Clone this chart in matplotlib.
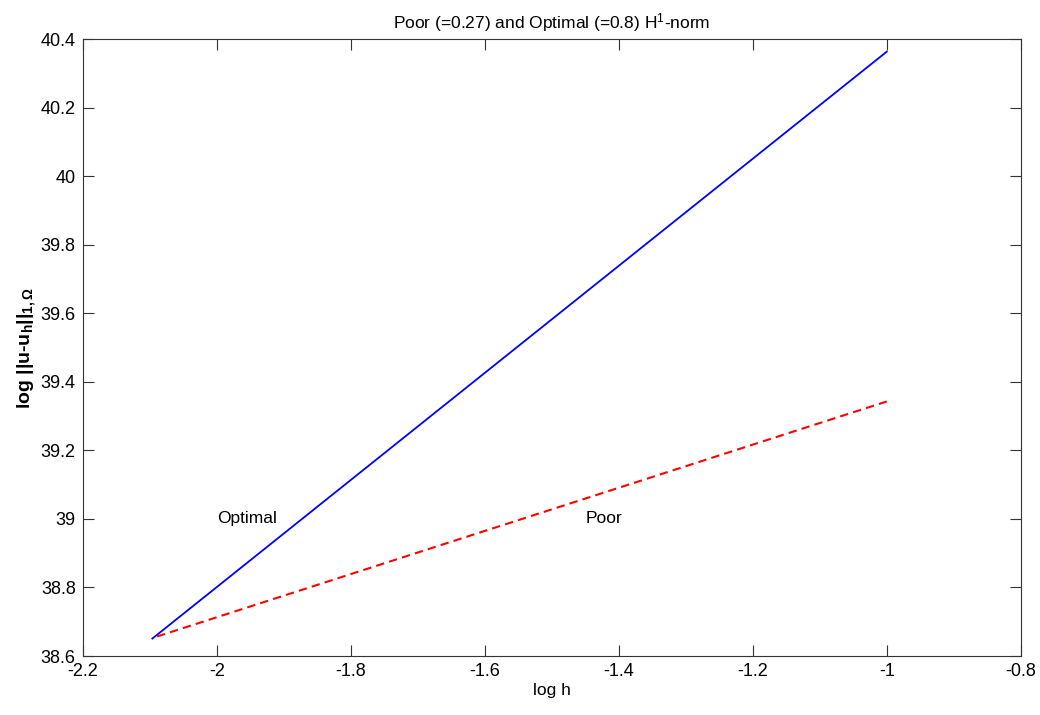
import matplotlib
matplotlib.use('Agg')
import matplotlib.pyplot as plt

plt.rcParams['font.family'] = ['Liberation Sans', 'DejaVu Sans']
plt.rcParams['mathtext.fontset'] = 'custom'
plt.rcParams['mathtext.rm'] = 'Liberation Sans'
plt.rcParams['mathtext.it'] = 'Liberation Sans'
plt.rcParams['mathtext.bf'] = 'Liberation Sans:bold'

# log h and log error for the two estimates
logh_opt = [-2.096, -1.0]
err_opt = [38.651, 40.364]
logh_poor = [-2.089, -1.0]
err_poor = [38.657, 39.343]

xticks = [-2.2, -2.0, -1.8, -1.6, -1.4, -1.2, -1.0, -0.8]
xtick_labels = ['-2.2', '-2', '-1.8', '-1.6', '-1.4', '-1.2', '-1', '-0.8']
yticks = [38.6, 38.8, 39.0, 39.2, 39.4, 39.6, 39.8, 40.0, 40.2, 40.4]
ytick_labels = ['38.6', '38.8', '39', '39.2', '39.4', '39.6', '39.8', '40', '40.2', '40.4']

fig = plt.figure(figsize=(10.4, 7.15), dpi=100)
ax = fig.add_axes([0.0795, 0.0825, 0.902, 0.8625])

ax.plot(logh_opt, err_opt, color='#0000ff', linewidth=1.3)
ax.plot(logh_poor, err_poor, color='#ff0000', linestyle='--', linewidth=1.5, dashes=(4, 2.5))

ax.text(-2.0, 39.0, 'Optimal', fontsize=12.5, va='center', ha='left')
ax.text(-1.45, 39.0, 'Poor', fontsize=12.5, va='center', ha='left')

ax.set_xlim(-2.2, -0.8)
ax.set_ylim(38.6, 40.4)
ax.set_xticks(xticks)
ax.set_xticklabels(xtick_labels)
ax.set_yticks(yticks)
ax.set_yticklabels(ytick_labels)
ax.tick_params(direction='in', length=8, width=0.8, labelsize=13, top=True, right=True,
               color='#333333')
ax.tick_params(axis='x', pad=5)
ax.tick_params(axis='y', pad=5)
for s in ax.spines.values():
    s.set_color('#333333')
    s.set_linewidth(0.8)

ax.set_xlabel('log h', fontsize=12.5, labelpad=2)
ax.set_ylabel(r'log ||u-u$_\mathbf{h}$||$_{\mathbf{1,\Omega}}$', fontsize=14,
              fontweight='bold', labelpad=2)
ax.set_title(r'Poor (=0.27) and Optimal (=0.8) H$^1$-norm', fontsize=12.5, pad=8)

fig.savefig('out.png', dpi=100)
